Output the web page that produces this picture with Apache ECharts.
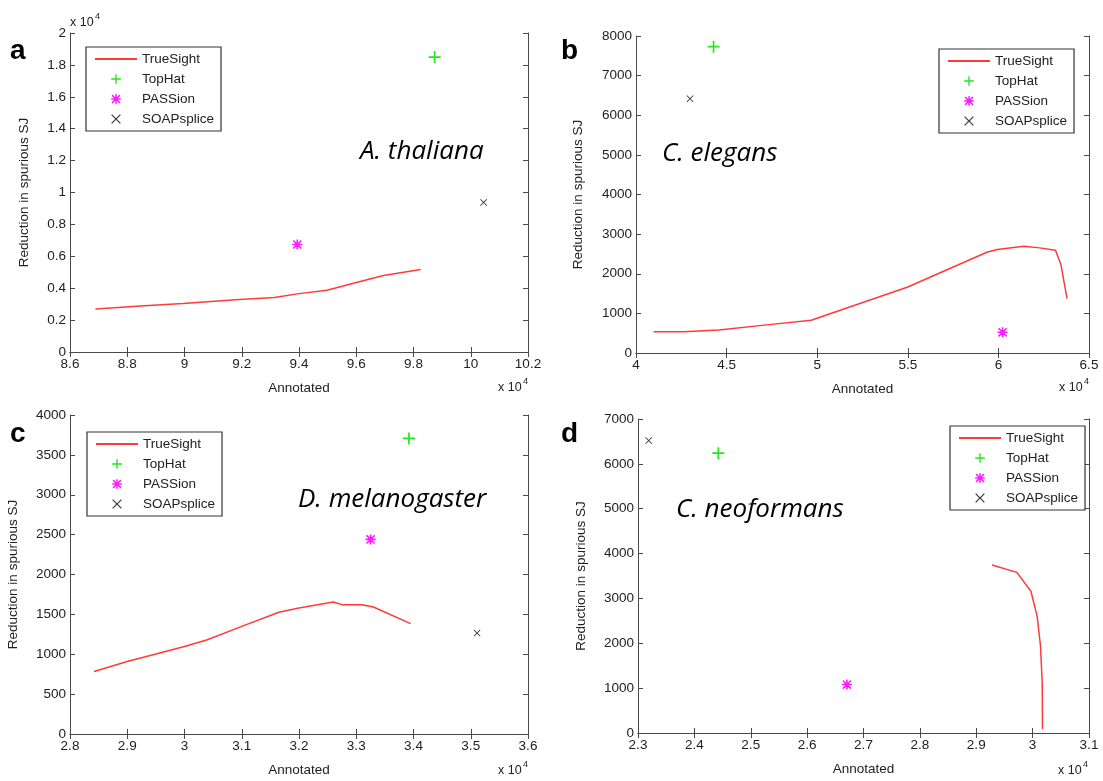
<!DOCTYPE html>
<html><head><meta charset="utf-8">
<script src="https://cdn.jsdelivr.net/npm/echarts@6/dist/echarts.min.js"></script>
<style>html,body{margin:0;padding:0;background:#fff}#c{width:1103px;height:781px}</style>
</head><body><div id="c"></div>
<script>
// ---------- data (raw values; axes display them in units of 10^4 where MATLAB did) ----------
const seriesNames = ['TrueSight', 'TopHat', 'PASSion', 'SOAPsplice'];

// a: A. thaliana
const aTrueX = [86890, 88460, 89940, 91910, 93140, 94000, 94980, 95970, 96950, 98250];
const aTrueY = [2700, 2890, 3040, 3290, 3410, 3660, 3870, 4340, 4800, 5170];
const aTopHat = [98740, 18490];
const aPASSion = [93940, 6740];
const aSOAP = [100450, 9380];

// b: C. elegans
const bTrueX = [40970, 42630, 44570, 47350, 49670, 55000, 59360, 59940, 61400, 62280, 63150, 63450, 63790];
const bTrueY = [539, 539, 580, 716, 825, 1667, 2543, 2611, 2695, 2653, 2594, 2232, 1373];
const bTopHat = [44280, 7730];
const bPASSion = [60230, 522];
const bSOAP = [42980, 6417];

// c: D. melanogaster
const cTrueX = [28420, 29000, 30000, 30400, 31000, 31650, 32000, 32600, 32750, 33100, 33300, 33950];
const cTrueY = [784, 910, 1098, 1182, 1350, 1526, 1580, 1656, 1622, 1622, 1593, 1384];
const cTopHat = [33920, 3706];
const cPASSion = [33250, 2440];
const cSOAP = [35110, 1266];

// d: C. neoformans
const dTrueX = [29280, 29720, 29970, 30080, 30140, 30170, 30175];
const dTrueY = [3744, 3581, 3160, 2605, 1939, 1125, 89];
const dTopHat = [24425, 6238];
const dPASSion = [26706, 1080];
const dSOAP = [23190, 6519];

// axis ranges [min, max, interval]
const aXRange = [86000, 102000, 2000], aYRange = [0, 20000, 2000];
const bXRange = [40000, 65000, 5000], bYRange = [0, 8000, 1000];
const cXRange = [28000, 36000, 1000], cYRange = [0, 4000, 500];
const dXRange = [23000, 31000, 1000], dYRange = [0, 7000, 1000];
const aXScale = 1e4, aYScale = 1e4, bXScale = 1e4, bYScale = 1, cXScale = 1e4, cYScale = 1, dXScale = 1e4, dYScale = 1;

const speciesLabels = ['A. thaliana', 'C. elegans', 'D. melanogaster', 'C. neoformans'];
const panelLetters = ['a', 'b', 'c', 'd'];
const xTitle = 'Annotated';
const yTitle = 'Reduction in spurious SJ';

// ---------- styling / layout ----------
const FONT = 'Liberation Sans, Arial, Helvetica, sans-serif';
const FS = 13.5;
const AXIS_COLOR = '#4a4a4a';
const LABEL_COLOR = '#222';
const PLUS = 'path://M4.3,0H5.7V4.3H10V5.7H5.7V10H4.3V5.7H0V4.3H4.3Z';
const CROSS = 'path://M0,0.9L0.9,0L5,4.1L9.1,0L10,0.9L5.9,5L10,9.1L9.1,10L5,5.9L0.9,10L0,9.1L4.1,5Z';
const STAR = 'path://M4.2,0H5.8V4.2H10V5.8H5.8V10H4.2V5.8H0V4.2H4.2Z M1.5,0.4L5,3.9L8.5,0.4L9.6,1.5L6.1,5L9.6,8.5L8.5,9.6L5,6.1L1.5,9.6L0.4,8.5L3.9,5L0.4,1.5Z';

const panels = [
  {tx: aTrueX, ty: aTrueY, th: aTopHat, pa: aPASSion, so: aSOAP, xr: aXRange, yr: aYRange, xs: aXScale, ys: aYScale,
   grid: {left: 70, top: 33, width: 458, height: 319}, yGap: 39, legend: {left: 86, top: 47}},
  {tx: bTrueX, ty: bTrueY, th: bTopHat, pa: bPASSion, so: bSOAP, xr: bXRange, yr: bYRange, xs: bXScale, ys: bYScale,
   grid: {left: 636, top: 36, width: 453, height: 317}, yGap: 51, legend: {left: 939, top: 49}},
  {tx: cTrueX, ty: cTrueY, th: cTopHat, pa: cPASSion, so: cSOAP, xr: cXRange, yr: cYRange, xs: cXScale, ys: cYScale,
   grid: {left: 70, top: 415, width: 458, height: 319}, yGap: 50, legend: {left: 87, top: 432}},
  {tx: dTrueX, ty: dTrueY, th: dTopHat, pa: dPASSion, so: dSOAP, xr: dXRange, yr: dYRange, xs: dXScale, ys: dYScale,
   grid: {left: 638, top: 419, width: 451, height: 314}, yGap: 50, legend: {left: 950, top: 426}}
];

function fmt(scale) {
  return function (v) { return String(Math.round(v / scale * 1000) / 1000); };
}

const grids = [], xAxes = [], yAxes = [], series = [], legends = [];
panels.forEach(function (p, i) {
  grids.push(Object.assign({containLabel: false}, p.grid));
  const common = {
    type: 'value', gridIndex: i,
    axisLine: {show: true, lineStyle: {color: AXIS_COLOR, width: 1}},
    axisTick: {show: true, inside: true, length: 5, lineStyle: {color: AXIS_COLOR, width: 1}},
    splitLine: {show: false}
  };
  xAxes.push(Object.assign({}, common, {
    position: 'bottom', min: p.xr[0], max: p.xr[1], interval: p.xr[2],
    axisLabel: {show: true, margin: 5, color: LABEL_COLOR, fontFamily: FONT, fontSize: FS, formatter: fmt(p.xs), showMinLabel: true, showMaxLabel: true, hideOverlap: false},
    name: xTitle, nameLocation: 'middle', nameGap: 29,
    nameTextStyle: {color: LABEL_COLOR, fontFamily: FONT, fontSize: FS}
  }));
  xAxes.push(Object.assign({}, common, {
    position: 'top', min: p.xr[0], max: p.xr[1], interval: p.xr[2], axisLabel: {show: false}
  }));
  yAxes.push(Object.assign({}, common, {
    position: 'left', min: p.yr[0], max: p.yr[1], interval: p.yr[2],
    axisLabel: {show: true, margin: 4, color: LABEL_COLOR, fontFamily: FONT, fontSize: FS, formatter: fmt(p.ys), showMinLabel: true, showMaxLabel: true, hideOverlap: false},
    name: yTitle, nameLocation: 'middle', nameGap: p.yGap, nameRotate: 90,
    nameTextStyle: {color: LABEL_COLOR, fontFamily: FONT, fontSize: FS}
  }));
  yAxes.push(Object.assign({}, common, {
    position: 'right', min: p.yr[0], max: p.yr[1], interval: p.yr[2], axisLabel: {show: false}
  }));
  const xi = i * 2, yi = i * 2;
  series.push({
    name: seriesNames[0], type: 'line', xAxisIndex: xi, yAxisIndex: yi,
    data: p.tx.map(function (x, k) { return [x, p.ty[k]]; }),
    symbol: 'none', smooth: false,
    lineStyle: {color: '#ff3a3a', width: 1.5}, itemStyle: {color: '#ff3a3a'}
  });
  const markers = [
    {name: seriesNames[1], pt: p.th, sym: PLUS, size: 12, color: '#1ee81e'},
    {name: seriesNames[2], pt: p.pa, sym: STAR, size: 10, color: '#ff1aff'},
    {name: seriesNames[3], pt: p.so, sym: CROSS, size: 7, color: '#3c3c3c'}
  ];
  markers.forEach(function (m) {
    series.push({
      name: m.name, type: 'line', xAxisIndex: xi, yAxisIndex: yi,
      data: [m.pt], symbol: m.sym, symbolSize: m.size, showSymbol: true,
      lineStyle: {width: 0, opacity: 0}, itemStyle: {color: m.color}
    });
  });
  legends.push({
    left: p.legend.left, top: p.legend.top, orient: 'vertical',
    data: [{name: seriesNames[0], itemStyle: {opacity: 0}}, seriesNames[1], seriesNames[2], seriesNames[3]],
    itemWidth: 42, itemHeight: 12, itemGap: 6,
    padding: [5, 7, 5, 8],
    borderColor: '#333', borderWidth: 1.2, backgroundColor: '#fff',
    textStyle: {color: LABEL_COLOR, fontFamily: FONT, fontSize: FS},
    selectedMode: false
  });
});

// ---------- annotations ----------
const graphics = [];
function txt(x, y, text, font, align, valign) {
  graphics.push({type: 'text', x: x, y: y, silent: true,
    style: {text: text, font: font, fill: '#000', textAlign: align || 'left', textVerticalAlign: valign || 'middle'}});
}
const speciesPos = [[360, 152], [662, 154], [298, 500], [676, 510]];
speciesLabels.forEach(function (s, i) { txt(speciesPos[i][0], speciesPos[i][1], s, 'italic 26px "Open Sans", sans-serif'); });
const letterPos = [[10, 51], [561, 51], [10, 434], [561, 434]];
panelLetters.forEach(function (s, i) { txt(letterPos[i][0], letterPos[i][1], s, 'bold 28px "Liberation Sans", Arial, sans-serif'); });
// "x 10^4" multipliers
function mult(x, y) {
  graphics.push({type: 'text', x: x, y: y, silent: true, style: {text: 'x 10', font: '12.5px "Liberation Sans", Arial, sans-serif', fill: LABEL_COLOR, textAlign: 'left', textVerticalAlign: 'middle'}});
  graphics.push({type: 'text', x: x + 25, y: y - 6, silent: true, style: {text: '4', font: '9px "Liberation Sans", Arial, sans-serif', fill: LABEL_COLOR, textAlign: 'left', textVerticalAlign: 'middle'}});
}
mult(70, 23);     // a, y axis
mult(498, 388);   // a, x axis
mult(1059, 388);  // b, x axis
mult(498, 771);   // c, x axis
mult(1058, 771);  // d, x axis

const chart = echarts.init(document.getElementById('c'), null, {renderer: 'canvas'});
chart.setOption({
  animation: false,
  backgroundColor: '#fff',
  grid: grids, xAxis: xAxes, yAxis: yAxes, series: series, legend: legends,
  graphic: graphics
});
</script></body></html>
